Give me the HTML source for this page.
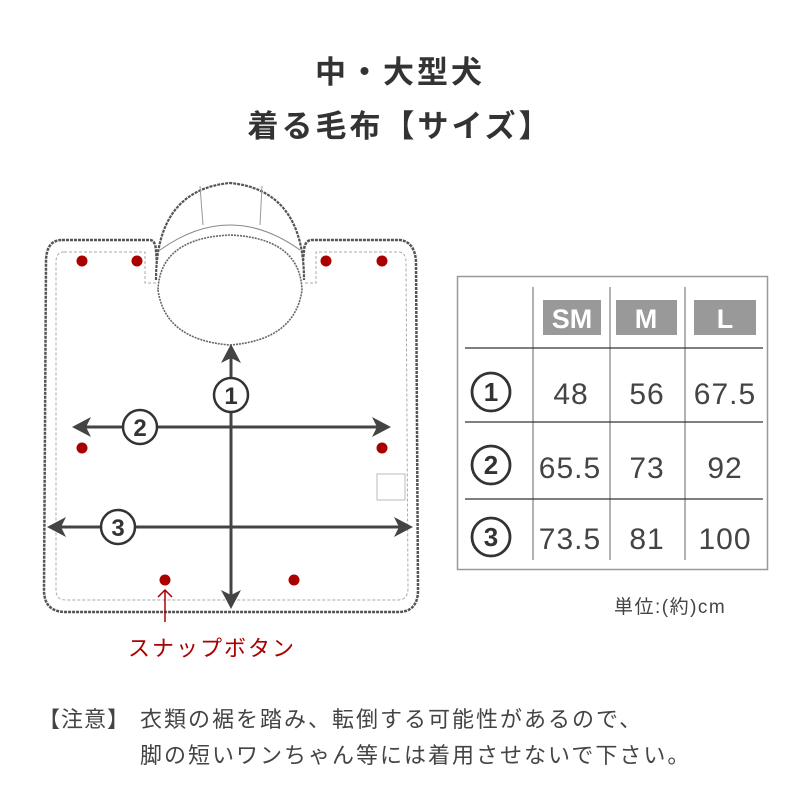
<!DOCTYPE html>
<html><head><meta charset="utf-8"><style>
html,body{margin:0;padding:0;background:#fff;}
svg{display:block}
text{font-family:"Liberation Sans","Noto Sans CJK JP",sans-serif;}
</style></head><body>
<svg width="800" height="800" viewBox="0 0 800 800" xmlns="http://www.w3.org/2000/svg">
<!-- title -->
<text x="400" y="83" text-anchor="middle" font-size="31" font-weight="bold" fill="#333" letter-spacing="3">中・大型犬</text>
<text x="400" y="137" text-anchor="middle" font-size="31" font-weight="bold" fill="#333" letter-spacing="3">着る毛布【サイズ】</text>

<!-- body shape -->
<path d="M62,240 L150,240 Q155,240 156,250 L158,275 L158,270 Q230,300 302,270 L304,250 Q305,240 312,240 L400,240 Q415,242 416,262 L418,590 Q418,612 398,612 L66,612 Q44,612 44,590 L46,262 Q46,240 62,240 Z" fill="#fff" stroke="#555" stroke-width="2.5" stroke-dasharray="3 1"/>
<path d="M64,252 L145,252 L145,283 L156,283 M305,283 L316,283 L316,252 L398,252 Q406,252 406,262 L408,588 Q408,600 398,600 L66,600 Q56,600 56,590 L56,262 Q56,252 64,252" fill="none" stroke="#aaa" stroke-width="1" stroke-dasharray="3 2"/>
<!-- hood -->
<path d="M156,280 Q156,190 230,183 Q304,190 304,280" fill="#fff" stroke="#555" stroke-width="2.2" stroke-dasharray="3 1"/>
<path d="M158,290 Q165,340 230,345 Q295,340 302,290 Q300,238 230,235 Q160,238 158,290 Z" fill="#fff" stroke="#666" stroke-width="1.6" stroke-dasharray="2 1"/>
<path d="M160,250 Q230,200 300,250" fill="none" stroke="#888" stroke-width="1"/>
<path d="M200,186 L203,225 M262,186 L260,225" fill="none" stroke="#999" stroke-width="1"/>

<rect x="377" y="474" width="28" height="26" fill="#fff" stroke="#bbb" stroke-width="1"/>

<g fill="#a00">
<circle cx="82" cy="261" r="5.5"/><circle cx="137" cy="261" r="5.5"/>
<circle cx="326" cy="261" r="5.5"/><circle cx="382" cy="261" r="5.5"/>
<circle cx="82" cy="448" r="5.5"/><circle cx="382" cy="448" r="5.5"/>
<circle cx="165" cy="580" r="5.5"/><circle cx="294" cy="580" r="5.5"/>
</g>

<g stroke="#444" stroke-width="3" fill="none">
<line x1="231" y1="352" x2="231" y2="600"/>
<line x1="80" y1="427" x2="383" y2="427"/>
<line x1="55" y1="527" x2="405" y2="527"/>
</g>
<g fill="#444">
<polygon points="231,344 221,363 231,358 241,363"/>
<polygon points="231,609 221,590 231,595 241,590"/>
<polygon points="72,427 91,417 86,427 91,437"/>
<polygon points="391,427 372,417 377,427 372,437"/>
<polygon points="47,527 66,517 61,527 66,537"/>
<polygon points="413,527 394,517 399,527 394,537"/>
</g>
<g stroke="#333" stroke-width="2.5" fill="#fff">
<circle cx="231" cy="395" r="17"/>
<circle cx="140" cy="427" r="17"/>
<circle cx="118" cy="527" r="17"/>
</g>
<g font-size="24" font-weight="bold" fill="#333" text-anchor="middle">
<text x="231" y="404">1</text>
<text x="140" y="436">2</text>
<text x="118" y="536">3</text>
</g>

<line x1="165" y1="590" x2="165" y2="622" stroke="#a00" stroke-width="1.5"/>
<polyline points="158,597 165,590 172,597" fill="none" stroke="#a00" stroke-width="1.5"/>
<text x="128" y="656" font-size="22" fill="#a00" letter-spacing="2">スナップボタン</text>

<!-- table -->
<rect x="457.5" y="276.5" width="310" height="293" fill="#fff" stroke="#999" stroke-width="1.5"/>
<g stroke="#999" stroke-width="1.5">
<line x1="533" y1="287" x2="533" y2="560"/>
<line x1="610" y1="287" x2="610" y2="560"/>
<line x1="685" y1="287" x2="685" y2="560"/>
</g>
<g stroke="#333" stroke-width="1.2">
<line x1="465" y1="348" x2="763" y2="348"/>
<line x1="465" y1="422" x2="763" y2="422"/>
<line x1="465" y1="499" x2="763" y2="499"/>
</g>
<g fill="#999">
<rect x="543" y="300" width="58" height="35"/>
<rect x="616" y="300" width="61" height="35"/>
<rect x="694" y="300" width="62" height="35"/>
</g>
<g font-size="27" font-weight="bold" fill="#fff" text-anchor="middle">
<text x="572" y="328">SM</text><text x="646" y="328">M</text><text x="725" y="328">L</text>
</g>
<g stroke="#333" stroke-width="2.8" fill="#fff">
<circle cx="491" cy="392" r="19"/><circle cx="491" cy="465" r="19"/><circle cx="491" cy="537" r="19"/>
</g>
<g font-size="26" font-weight="bold" fill="#333" text-anchor="middle">
<text x="491" y="401">1</text><text x="491" y="474">2</text><text x="491" y="546">3</text>
</g>
<g font-size="30" fill="#444" text-anchor="middle" letter-spacing="1">
<text x="571" y="404">48</text><text x="647" y="404">56</text><text x="725" y="404">67.5</text>
<text x="570" y="478">65.5</text><text x="647" y="478">73</text><text x="725" y="478">92</text>
<text x="570" y="549">73.5</text><text x="647" y="549">81</text><text x="725" y="549">100</text>
</g>
<text x="614" y="613" font-size="19" fill="#444" letter-spacing="1.5">単位:(約)cm</text>

<text x="38" y="727" font-size="22" fill="#444" letter-spacing="1">【注意】</text>
<text x="140" y="727" font-size="22" fill="#444" letter-spacing="2">衣類の裾を踏み、転倒する可能性があるので、</text>
<text x="140" y="763" font-size="22" fill="#444" letter-spacing="2">脚の短いワンちゃん等には着用させないで下さい。</text>
</svg>
</body></html>
